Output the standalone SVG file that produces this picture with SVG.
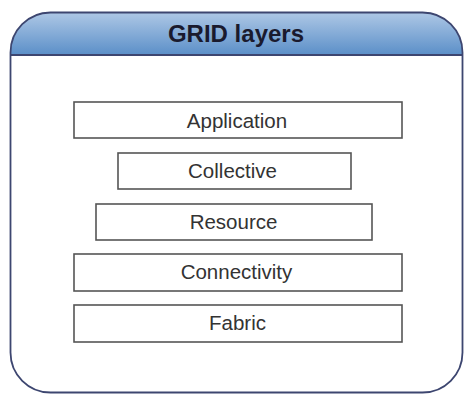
<svg xmlns="http://www.w3.org/2000/svg" width="465" height="394" viewBox="0 0 465 394">
<defs>
<linearGradient id="hdr" x1="0" y1="0" x2="0" y2="1">
<stop offset="0" stop-color="#c6d8ee"/>
<stop offset="1" stop-color="#5b8fc8"/>
</linearGradient>
<clipPath id="outerClip">
<rect x="10.5" y="12.5" width="452" height="380" rx="40" ry="40"/>
</clipPath>
</defs>
<style>
.layer rect{fill:#ffffff;stroke:#555555;stroke-width:1.6}
.layer text{font-family:"Liberation Sans",Arial,sans-serif;font-size:20.5px;fill:#333333;text-anchor:middle}
.title{font-family:"Liberation Sans",Arial,sans-serif;font-size:24px;font-weight:bold;fill:#1a1a2e;text-anchor:middle}
</style>
<rect width="465" height="394" fill="#ffffff"/>
<g id="frame">
<rect x="10.5" y="12.5" width="452" height="380" rx="40" ry="40" fill="#ffffff"/>
<rect x="0" y="0" width="465" height="55" fill="url(#hdr)" clip-path="url(#outerClip)"/>
<line x1="10.5" y1="55" x2="462.5" y2="55" stroke="#3d4670" stroke-width="2"/>
<rect x="10.5" y="12.5" width="452" height="380" rx="40" ry="40" fill="none" stroke="#3d4670" stroke-width="1.8"/>
<text class="title" x="236" y="42">GRID layers</text>
</g>
<g id="application" class="layer">
<rect x="74" y="102" width="328" height="36"/>
<text x="237" y="128">Application</text>
</g>
<g id="collective" class="layer">
<rect x="118" y="153" width="233" height="36"/>
<text x="232.5" y="178">Collective</text>
</g>
<g id="resource" class="layer">
<rect x="96" y="204" width="276" height="36"/>
<text x="233.5" y="229">Resource</text>
</g>
<g id="connectivity" class="layer">
<rect x="74" y="254" width="328" height="37"/>
<text x="236.5" y="279">Connectivity</text>
</g>
<g id="fabric" class="layer">
<rect x="74" y="305" width="328" height="37"/>
<text x="237.5" y="330">Fabric</text>
</g>
<g id="connectors"/>
</svg>
